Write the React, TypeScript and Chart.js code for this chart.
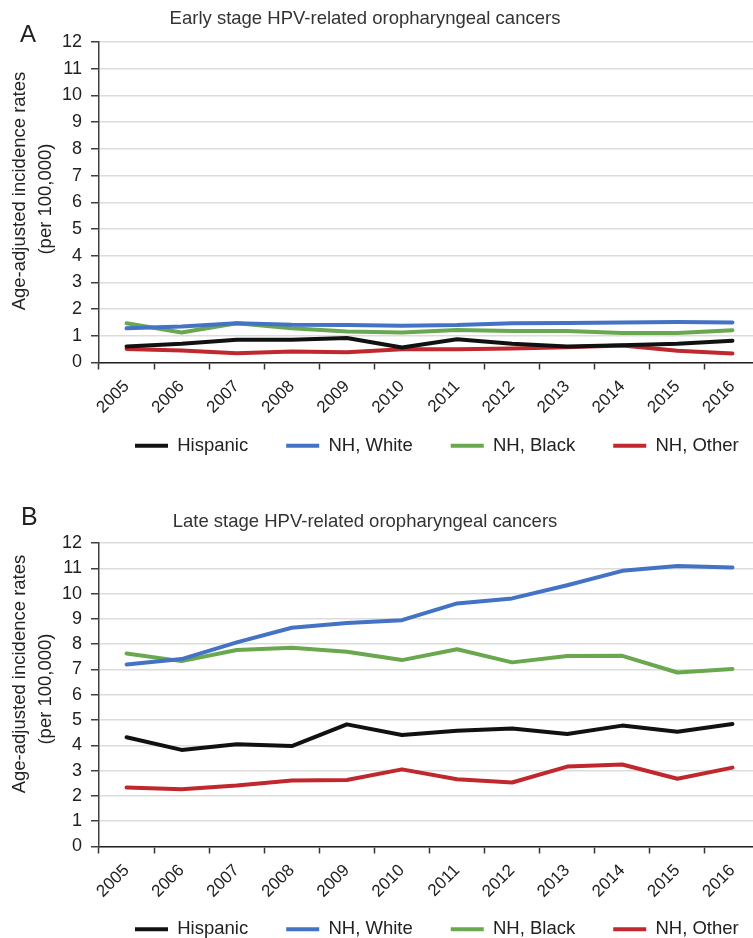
import React, { useEffect, useRef } from "react";
import { Chart, registerables } from "chart.js";

Chart.register(...registerables);

const FONT = '"Liberation Sans", Arial, Helvetica, sans-serif';

const years = ["2005", "2006", "2007", "2008", "2009", "2010", "2011", "2012", "2013", "2014", "2015", "2016"];
const seriesNames = ["Hispanic", "NH, White", "NH, Black", "NH, Other"];
const seriesColors = ["#111111", "#4472c4", "#6aa84f", "#c0282d"];

const yMin = 0;
const yMax = 12;
const yStep = 1;
const yTitleLine1 = "Age-adjusted incidence rates";
const yTitleLine2 = "(per 100,000)";

// Panel A: early stage
const earlyHispanic = [0.6, 0.7, 0.85, 0.85, 0.92, 0.56, 0.87, 0.7, 0.6, 0.65, 0.7, 0.81];
const earlyWhite = [1.28, 1.35, 1.47, 1.41, 1.4, 1.38, 1.4, 1.47, 1.48, 1.5, 1.52, 1.5];
const earlyBlack = [1.47, 1.12, 1.47, 1.28, 1.16, 1.12, 1.22, 1.18, 1.18, 1.1, 1.1, 1.21];
const earlyOther = [0.51, 0.45, 0.35, 0.41, 0.38, 0.5, 0.5, 0.52, 0.57, 0.64, 0.44, 0.34];

// Panel B: late stage
const lateHispanic = [4.32, 3.82, 4.04, 3.97, 4.83, 4.41, 4.58, 4.67, 4.45, 4.78, 4.54, 4.84];
const lateWhite = [7.2, 7.41, 8.07, 8.65, 8.84, 8.95, 9.61, 9.81, 10.33, 10.9, 11.09, 11.03];
const lateBlack = [7.63, 7.33, 7.77, 7.86, 7.7, 7.37, 7.8, 7.28, 7.53, 7.54, 6.88, 7.02];
const lateOther = [2.33, 2.26, 2.41, 2.61, 2.63, 3.05, 2.66, 2.53, 3.16, 3.24, 2.68, 3.12];

const earlyTitle = "Early stage HPV-related oropharyngeal cancers";
const lateTitle = "Late stage HPV-related oropharyngeal cancers";

type PanelProps = {
  top: number;
  boxHeight: number;
  canvasHeight: number;
  padTop: number;
  xHeight: number;
  legendOffset: number;
  values: number[][];
};

function Panel({ top, boxHeight, canvasHeight, padTop, xHeight, legendOffset, values }: PanelProps) {
  const ref = useRef<HTMLCanvasElement | null>(null);
  useEffect(() => {
    if (!ref.current) return;
    const legendPlace = {
      id: "legendPlace",
      afterLayout(chart: any) {
        const lg = chart.legend;
        if (!lg) return;
        const dx = chart.chartArea.left - 2 - lg.left;
        lg.left += dx;
        lg.right += dx;
        const dy = chart.chartArea.bottom + legendOffset - lg.top;
        lg.top += dy;
        lg.bottom += dy;
      },
    };
    const chart = new Chart(ref.current, {
      type: "line",
      data: {
        labels: years,
        datasets: values.map((v, i) => ({
          label: seriesNames[i],
          data: v,
          borderColor: seriesColors[i],
          backgroundColor: seriesColors[i],
          borderWidth: 4,
          pointRadius: 0,
          tension: 0,
          borderCapStyle: "round",
          borderJoinStyle: "round",
          fill: false,
        })),
      },
      options: {
        responsive: false,
        maintainAspectRatio: false,
        animation: false,
        layout: { padding: { top: padTop, left: 0, right: 10, bottom: 0 } },
        plugins: {
          tooltip: { enabled: false },
          title: { display: false },
          legend: {
            position: "bottom",
            align: "start",
            labels: {
              usePointStyle: true,
              pointStyle: "line",
              pointStyleWidth: 33,
              padding: 38,
              color: "#222",
              font: { family: FONT, size: 18.5 },
            },
          },
        },
        scales: {
          x: {
            type: "category",
            offset: true,
            grid: {
              display: true,
              drawOnChartArea: false,
              drawTicks: true,
              tickLength: 7,
              offset: true,
              tickColor: "#333",
              tickWidth: 1.5,
            },
            border: { display: true, color: "#222", width: 1.5 },
            ticks: {
              autoSkip: false,
              maxRotation: 45,
              minRotation: 45,
              padding: 7,
              color: "#222",
              font: { family: FONT, size: 17 },
            },
            afterFit: (s: any) => {
              s.height = xHeight;
            },
          },
          y: {
            min: yMin,
            max: yMax,
            ticks: { stepSize: yStep, autoSkip: false, padding: 9, color: "#222", font: { family: FONT, size: 18 } },
            grid: {
              color: "#dcdcdc",
              lineWidth: 1.5,
              drawTicks: true,
              tickLength: 8,
              tickColor: "#404040",
              tickWidth: 1.5,
            },
            border: { display: true, color: "#404040", width: 1.5 },
            title: { display: false },
            afterFit: (s: any) => {
              s.width = 99;
            },
          },
        },
      },
      plugins: [legendPlace],
    } as any);
    return () => chart.destroy();
  }, []);
  return (
    <div style={{ position: "fixed", left: 0, top, width: 753, height: boxHeight, overflow: "hidden" }}>
      <canvas ref={ref} width={770} height={canvasHeight} style={{ display: "block" }} />
    </div>
  );
}

const textBase: React.CSSProperties = {
  position: "fixed",
  fontFamily: FONT,
  color: "#222",
  whiteSpace: "nowrap",
};

function VText({ cx, cy, text }: { cx: number; cy: number; text: string }) {
  return (
    <div
      style={{
        ...textBase,
        left: cx,
        top: cy,
        fontSize: 18.5,
        lineHeight: "22px",
        transform: "translate(-50%, -50%) rotate(-90deg)",
      }}
    >
      {text}
    </div>
  );
}

export default function App() {
  return (
    <div>
      <Panel top={0} boxHeight={470} canvasHeight={484.5} padTop={42} xHeight={55} legendOffset={36}
        values={[earlyHispanic, earlyWhite, earlyBlack, earlyOther]} />
      <Panel top={470} boxHeight={468} canvasHeight={498.2} padTop={73} xHeight={55} legendOffset={35.5}
        values={[lateHispanic, lateWhite, lateBlack, lateOther]} />
      <div style={{ ...textBase, left: 0, width: 730, top: 7, fontSize: 18.5, lineHeight: "22px", textAlign: "center", color: "#333" }}>
        {earlyTitle}
      </div>
      <div style={{ ...textBase, left: 0, width: 730, top: 510, fontSize: 18.5, lineHeight: "22px", textAlign: "center", color: "#333" }}>
        {lateTitle}
      </div>
      <div style={{ ...textBase, left: 20, top: 22, fontSize: 24, lineHeight: "24px" }}>A</div>
      <div style={{ ...textBase, left: 21, top: 504, fontSize: 25, lineHeight: "25px" }}>B</div>
      <VText cx={18.5} cy={191} text={yTitleLine1} />
      <VText cx={45} cy={198.5} text={yTitleLine2} />
      <VText cx={18.5} cy={674} text={yTitleLine1} />
      <VText cx={45} cy={689} text={yTitleLine2} />
    </div>
  );
}
